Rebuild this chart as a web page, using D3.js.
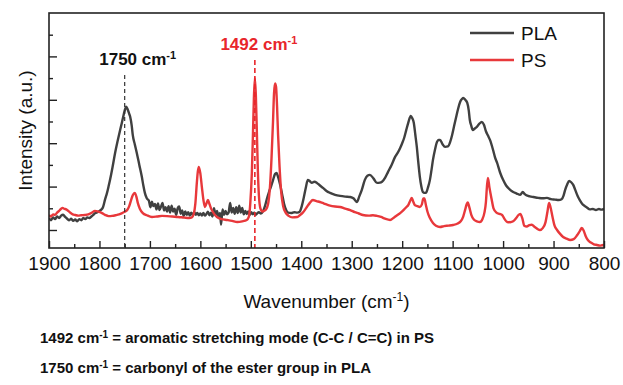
<!DOCTYPE html>
<html>
<head>
<meta charset="utf-8">
<script src="https://cdn.jsdelivr.net/npm/d3@7"></script>
<style>
  html, body { margin: 0; padding: 0; background: #fff; }
  svg { display: block; font-family: "Liberation Sans", Arial, sans-serif; }
</style>
</head>
<body>
<svg id="chart" width="623" height="385"></svg>
<script>
// FTIR spectra: [wavenumber (cm-1), intensity (a.u.)]
const plaSpectrum = [
  [1900,0.55],[1896,0.45],[1892,0.58],[1888,0.50],[1884,0.62],[1880,0.55],[1876,0.66],[1872,0.70],[1868,0.60],[1864,0.52],
  [1860,0.45],[1856,0.52],[1852,0.42],[1848,0.48],[1844,0.40],[1840,0.50],[1836,0.45],[1832,0.55],[1828,0.50],[1824,0.58],
  [1820,0.55],[1816,0.62],[1812,0.70],[1808,0.78],[1804,0.82],[1800,0.88],[1796,0.95],[1793,1.05],[1789,1.40],[1785,1.71],
  [1782,2.00],[1779,2.31],[1774,2.90],[1769,3.55],[1764,4.10],[1759,4.61],[1756,4.90],[1753,5.21],[1750,5.50],[1747,5.68],
  [1744,5.55],[1741,5.35],[1739,5.21],[1736,4.80],[1734,4.38],[1730,3.95],[1726,3.55],[1721,3.00],[1716,2.45],[1713,2.05],
  [1710,1.71],[1706,1.45],[1702,1.35],[1699,1.05],[1696,1.30],[1693,1.10],[1690,1.20],[1687,0.95],[1684,1.22],[1681,0.92],
  [1678,1.08],[1675,1.25],[1672,0.90],[1669,1.05],[1666,0.85],[1663,1.10],[1660,0.80],[1657,1.12],[1654,0.85],[1651,0.98],
  [1648,0.70],[1645,1.00],[1642,1.08],[1639,0.75],[1636,0.90],[1633,0.64],[1630,0.85],[1627,0.70],[1624,0.82],[1621,0.66],
  [1618,0.80],[1615,0.68],[1612,0.82],[1609,0.70],[1606,0.78],[1603,0.68],[1600,0.76],[1597,0.66],[1594,0.78],[1591,0.66],
  [1588,0.74],[1585,0.84],[1582,0.68],[1579,0.80],[1576,0.62],[1573,1.00],[1570,0.70],[1567,0.88],[1564,0.62],[1561,0.78],
  [1559,0.25],[1556,0.95],[1553,0.70],[1550,0.88],[1547,0.72],[1544,0.80],[1541,1.25],[1538,0.80],[1535,1.02],[1532,0.75],
  [1529,1.05],[1526,0.78],[1523,1.12],[1520,0.80],[1517,1.02],[1514,0.72],[1511,0.88],[1508,0.74],[1505,0.86],[1502,0.70],
  [1499,0.82],[1496,0.72],[1493,0.80],[1490,0.70],[1487,0.78],[1484,0.82],[1480,0.76],[1476,0.85],
  [1472,1.10],[1468,1.45],[1464,1.75],[1460,2.00],[1456,2.30],[1452,2.58],[1449,2.63],[1446,2.45],[1442,2.10],[1438,1.65],
  [1434,1.20],[1430,0.92],[1426,0.80],[1420,0.78],[1414,0.82],[1408,0.80],[1403,0.85],[1399,1.10],[1395,1.50],[1391,1.95],
  [1387,2.31],[1383,2.25],[1379,2.17],[1374,2.22],[1369,2.17],[1363,2.05],[1357,1.94],[1350,1.80],[1343,1.71],[1333,1.62],
  [1323,1.57],[1313,1.54],[1303,1.52],[1296,1.45],[1290,1.29],[1285,1.55],[1280,1.85],[1274,2.31],[1269,2.50],[1264,2.54],
  [1257,2.38],[1250,2.17],[1244,2.18],[1240,2.22],[1234,2.40],[1228,2.68],[1221,3.00],[1214,3.37],[1209,3.55],[1204,3.78],
  [1200,4.00],[1196,4.25],[1192,4.60],[1188,4.94],[1183,5.26],[1180,5.15],[1177,4.94],[1174,4.40],[1171,3.83],[1168,3.10],
  [1165,2.45],[1162,2.00],[1159,1.75],[1156,1.71],[1153,1.71],[1149,1.95],[1145,2.31],[1142,2.75],[1139,3.23],[1135,3.70],
  [1131,4.06],[1128,4.15],[1125,4.15],[1120,3.95],[1115,3.83],[1109,3.85],[1105,4.05],[1101,4.38],[1097,4.80],[1093,5.21],
  [1089,5.60],[1085,5.91],[1081,6.05],[1079,6.09],[1075,6.00],[1071,5.86],[1068,5.50],[1066,5.08],[1063,4.80],[1060,4.61],
  [1056,4.68],[1052,4.75],[1047,4.90],[1042,4.98],[1038,4.85],[1034,4.55],[1030,4.35],[1026,4.15],[1020,3.70],[1016,3.35],
  [1012,3.10],[1006,2.65],[1000,2.31],[994,2.05],[986,1.85],[980,1.75],[973,1.68],[966,1.62],[961,1.75],[957,1.65],
  [952,1.58],[947,1.55],[940,1.52],[930,1.48],[921,1.46],[913,1.48],[905,1.42],[897,1.40],[890,1.38],[884,1.42],
  [880,1.60],[877,1.85],[873,2.10],[869,2.26],[865,2.20],[861,2.08],[857,1.85],[852,1.55],[848,1.38],[843,1.20],
  [838,1.10],[834,1.04],[828,0.95],[822,0.97],[816,0.92],[810,0.97],[805,0.94],[800,0.97]
];

const psSpectrum = [
  [1900,0.69],[1896,0.62],[1892,0.72],[1888,0.70],[1884,0.80],[1880,0.88],[1876,0.98],[1873,1.02],[1870,0.98],[1866,0.95],
  [1862,0.88],[1858,0.80],[1853,0.72],[1848,0.69],[1842,0.66],[1836,0.68],[1829,0.69],[1822,0.72],[1815,0.80],[1809,0.88],
  [1804,0.86],[1799,0.82],[1795,0.78],[1789,0.70],[1782,0.64],[1775,0.65],[1768,0.68],[1761,0.72],[1755,0.78],[1750,0.84],
  [1745,0.92],[1741,1.10],[1737,1.40],[1734,1.60],[1730,1.71],[1727,1.55],[1724,1.25],[1720,0.98],[1714,0.78],[1706,0.68],
  [1696,0.60],[1686,0.62],[1676,0.65],[1666,0.64],[1656,0.62],[1644,0.60],[1632,0.57],[1622,0.55],[1617,0.58],[1613,0.75],
  [1610,1.20],[1607,2.17],[1605,2.70],[1603,2.91],[1600,2.60],[1597,1.98],[1594,1.40],[1591,1.06],[1588,1.22],[1585,1.38],
  [1582,1.20],[1578,0.95],[1572,0.72],[1567,0.60],[1558,0.50],[1547,0.46],[1537,0.42],[1527,0.37],[1517,0.40],[1508,0.46],
  [1504,0.60],[1501,1.25],[1498,2.60],[1496,4.20],[1494,6.00],[1492,7.00],[1490,6.20],[1488,4.50],[1486,2.70],[1484,1.60],
  [1481,1.00],[1477,0.85],[1472,0.90],[1468,1.02],[1465,1.30],[1462,2.00],[1459,3.30],[1456,5.00],[1454,6.30],[1452,6.75],
  [1450,6.60],[1448,5.70],[1446,4.40],[1443,2.90],[1440,1.80],[1436,1.10],[1431,0.80],[1425,0.65],[1418,0.58],[1408,0.60],
  [1403,0.68],[1397,0.80],[1390,1.02],[1383,1.25],[1377,1.38],[1370,1.33],[1363,1.29],[1355,1.22],[1343,1.12],[1333,1.08],
  [1323,1.06],[1313,0.98],[1303,0.92],[1294,0.82],[1286,0.76],[1278,0.69],[1266,0.66],[1258,0.68],[1250,0.65],[1242,0.60],
  [1234,0.52],[1224,0.46],[1216,0.58],[1210,0.68],[1204,0.78],[1196,0.95],[1192,1.05],[1188,1.15],[1184,1.35],[1181,1.48],
  [1178,1.30],[1175,1.15],[1170,1.10],[1165,1.06],[1161,1.18],[1158,1.45],[1156,1.45],[1153,1.15],[1150,0.85],[1145,0.55],
  [1139,0.32],[1133,0.20],[1125,0.14],[1117,0.18],[1108,0.20],[1099,0.23],[1090,0.30],[1084,0.40],[1079,0.62],[1075,0.95],
  [1072,1.20],[1070,1.27],[1067,1.05],[1063,0.70],[1058,0.48],[1052,0.40],[1046,0.37],[1041,0.50],[1037,0.80],[1034,1.30],
  [1032,2.00],[1030,2.40],[1027,1.95],[1023,1.45],[1019,1.00],[1013,0.80],[1007,0.74],[1002,0.69],[997,0.50],[992,0.37],
  [986,0.36],[980,0.40],[974,0.55],[970,0.68],[966,0.74],[962,0.55],[958,0.20],[953,0.16],[948,0.22],[943,0.24],
  [938,0.15],[932,0.05],[927,0.00],[921,0.10],[916,0.35],[912,0.85],[909,1.25],[906,1.05],[902,0.60],[898,0.20],
  [893,0.00],[887,-0.18],[881,-0.32],[874,-0.40],[867,-0.46],[860,-0.42],[853,-0.23],[848,-0.05],[844,0.09],[840,-0.05],
  [836,-0.30],[832,-0.46],[826,-0.58],[820,-0.66],[814,-0.69],[808,-0.72],[802,-0.69],[800,-0.72]
];

const seriesNames = ["PLA", "PS"];
const seriesColors = ["#404040", "#e8383b"];
const xMajorTicks = [1900, 1800, 1700, 1600, 1500, 1400, 1300, 1200, 1100, 1000, 900, 800];
const xMinorTicks = [1850, 1750, 1650, 1550, 1450, 1350, 1250, 1150, 1050, 950, 850];
const yMajorTicks = [0, 2, 4, 6, 8];
const yMinorTicks = [1, 3, 5, 7, 9];
const markerPositions = [1750, 1492];   // band markers
const markerColors = ["#333333", "#e8262b"];
const notes = [
  ["1492", " = aromatic stretching mode (C-C / C=C) in PS"],
  ["1750", " = carbonyl of the ester group in PLA"]
];

const svg = d3.select("#chart");
const plot = { left: 49, right: 604, top: 13, bottom: 248 };

const x = d3.scaleLinear().domain([1900, 800]).range([plot.left, plot.right]);
const y = d3.scaleLinear().domain([-0.83, 10]).range([plot.bottom, plot.top]);

svg.append("defs").append("clipPath").attr("id", "plotClip")
  .append("rect")
  .attr("x", plot.left).attr("y", plot.top)
  .attr("width", plot.right - plot.left).attr("height", plot.bottom - plot.top);

// inward ticks on the bottom axis, labels below
const xAxisMajor = d3.axisBottom(x).tickValues(xMajorTicks).tickSize(-7).tickPadding(9).tickFormat(d3.format("d"));
const xAxisMinor = d3.axisBottom(x).tickValues(xMinorTicks).tickSize(-4).tickFormat("");
const gxMaj = svg.append("g").attr("transform", `translate(0,${plot.bottom})`).call(xAxisMajor);
const gxMin = svg.append("g").attr("transform", `translate(0,${plot.bottom})`).call(xAxisMinor);
[gxMaj, gxMin].forEach(g => {
  g.select(".domain").remove();
  g.selectAll(".tick line").attr("stroke", "#222").attr("stroke-width", 1.4);
});
gxMaj.selectAll(".tick text")
  .attr("fill", "#111").attr("font-size", 19).attr("font-family", "Liberation Sans, Arial, sans-serif");

// inward ticks on the left axis, no labels
const yAxisMajor = d3.axisLeft(y).tickValues(yMajorTicks).tickSize(-8).tickFormat("");
const yAxisMinor = d3.axisLeft(y).tickValues(yMinorTicks).tickSize(-4).tickFormat("");
[yAxisMajor, yAxisMinor].forEach(ax => {
  const g = svg.append("g").attr("transform", `translate(${plot.left},0)`).call(ax);
  g.select(".domain").remove();
  g.selectAll(".tick line").attr("stroke", "#222").attr("stroke-width", 1.4);
});

// spectra
const line = d3.line().x(d => x(d[0])).y(d => y(d[1])).curve(d3.curveMonotoneX);
const curves = svg.append("g").attr("clip-path", "url(#plotClip)");
[plaSpectrum, psSpectrum].forEach((data, i) => {
  curves.append("path")
    .datum(data)
    .attr("d", line)
    .attr("fill", "none")
    .attr("stroke", seriesColors[i])
    .attr("stroke-width", 2.4)
    .attr("stroke-linejoin", "round");
});

// band marker lines and labels
const markerTop = [75, 60];
const markerLabelY = [65, 50];
markerPositions.forEach((wn, i) => {
  svg.append("line")
    .attr("x1", x(wn)).attr("x2", x(wn))
    .attr("y1", markerTop[i]).attr("y2", plot.bottom)
    .attr("stroke", markerColors[i])
    .attr("stroke-width", i === 0 ? 1.2 : 1.6)
    .attr("stroke-dasharray", i === 0 ? "4,3" : "5,3");
  const t = svg.append("text")
    .attr("x", x(wn) + (i === 0 ? 13 : 4))
    .attr("y", markerLabelY[i])
    .attr("text-anchor", "middle")
    .attr("font-size", 17).attr("font-weight", "bold")
    .attr("fill", i === 0 ? "#111" : markerColors[i]);
  t.append("tspan").text(`${wn} cm`);
  t.append("tspan").attr("dy", -6).attr("font-size", 11).text("-1");
});

// frame
svg.append("rect")
  .attr("x", plot.left).attr("y", plot.top)
  .attr("width", plot.right - plot.left).attr("height", plot.bottom - plot.top)
  .attr("fill", "none").attr("stroke", "#222").attr("stroke-width", 1.6);

// legend
const legendY = [33, 60];
seriesNames.forEach((name, i) => {
  svg.append("line")
    .attr("x1", 470).attr("x2", 514)
    .attr("y1", legendY[i]).attr("y2", legendY[i])
    .attr("stroke", seriesColors[i]).attr("stroke-width", 2.6);
  svg.append("text")
    .attr("x", 521).attr("y", legendY[i] + 7)
    .attr("font-size", 19).attr("fill", "#111")
    .text(name);
});

// axis titles
const xt = svg.append("text")
  .attr("x", (plot.left + plot.right) / 2).attr("y", 308)
  .attr("text-anchor", "middle").attr("font-size", 19).attr("fill", "#111");
xt.append("tspan").text("Wavenumber (cm");
xt.append("tspan").attr("dy", -7).attr("font-size", 12).text("-1");
xt.append("tspan").attr("dy", 7).text(")");

svg.append("text")
  .attr("transform", `translate(32,${(plot.top + plot.bottom) / 2}) rotate(-90)`)
  .attr("text-anchor", "middle").attr("font-size", 19).attr("fill", "#111")
  .text("Intensity (a.u.)");

// band assignments
const noteY = [343, 373];
notes.forEach((n, i) => {
  const t = svg.append("text")
    .attr("x", 40).attr("y", noteY[i])
    .attr("font-size", 15).attr("font-weight", "bold").attr("fill", "#111");
  t.append("tspan").text(`${n[0]} cm`);
  t.append("tspan").attr("dy", -5).attr("font-size", 10).text("-1");
  t.append("tspan").attr("dy", 5).text(n[1]);
});
</script>
</body>
</html>
